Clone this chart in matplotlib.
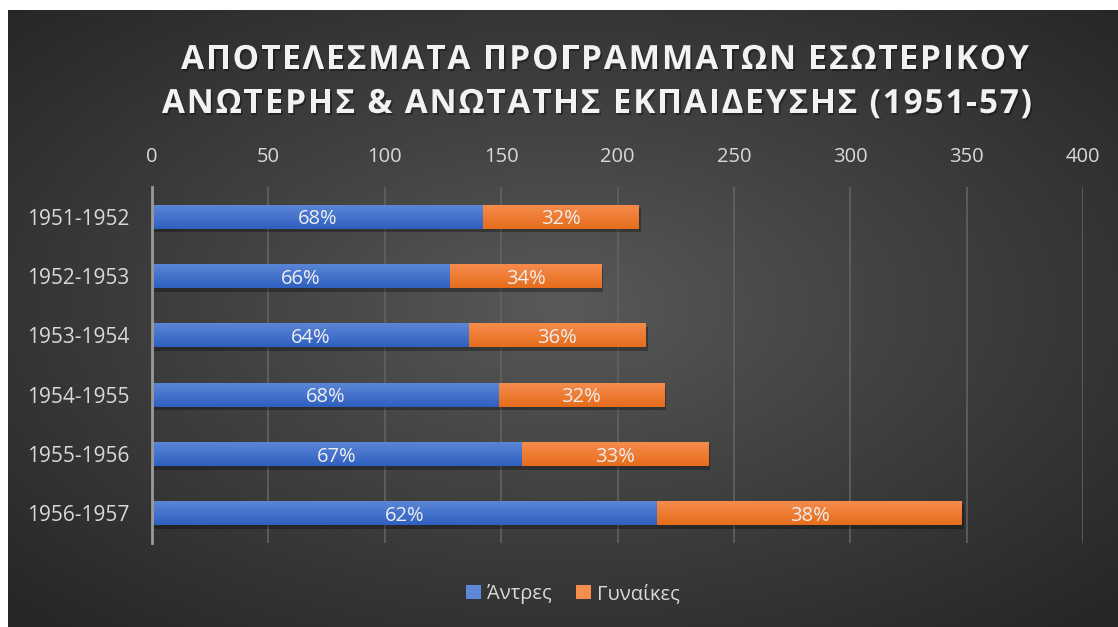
import numpy as np
import matplotlib
matplotlib.use("Agg")
import matplotlib.pyplot as plt
from matplotlib.patches import Patch
import matplotlib.patheffects as pe

# ---------------- data ----------------
years = ["1951-1952", "1952-1953", "1953-1954", "1954-1955", "1955-1956", "1956-1957"]
men = [142, 128, 136, 149, 159, 217]      # Άντρες
women = [67, 65, 76, 71, 80, 131]         # Γυναίκες
series_names = ["Άντρες", "Γυναίκες"]
x_ticks = [0, 50, 100, 150, 200, 250, 300, 350, 400]
title_lines = ["ΑΠΟΤΕΛΕΣΜΑΤΑ ΠΡΟΓΡΑΜΜΑΤΩΝ ΕΣΩΤΕΡΙΚΟΥ",
               "ΑΝΩΤΕΡΗΣ & ΑΝΩΤΑΤΗΣ ΕΚΠΑΙΔΕΥΣΗΣ (1951-57)"]

FONT = "Open Sans"
TXT = "#d9d9d9"
BLUE_TOP, BLUE_BOT = "#5d88d8", "#2f5fbf"
ORNG_TOP, ORNG_BOT = "#f68d4e", "#e66d1c"

W, H = 1118, 627
fig = plt.figure(figsize=(W / 100, H / 100), dpi=100)
fig.patch.set_facecolor("white")

# ---------------- background (radial gradient) ----------------
bg = fig.add_axes([8 / W, 0, 1 - 8 / W, 1 - 10 / H], zorder=-5)
bg.set_axis_off()
gy, gx = np.mgrid[0:1:300j, 0:1:500j]
r = np.sqrt(((gx - 0.5) / 0.5) ** 2 + ((gy - 0.48) / 0.5) ** 2) / np.sqrt(2)
r = np.clip(r, 0, 1) ** 0.9
light = np.array([0x5a, 0x5a, 0x5a]) / 255
dark = np.array([0x26, 0x26, 0x26]) / 255
img = light[None, None, :] * (1 - r[..., None]) + dark[None, None, :] * r[..., None]
bg.imshow(img, aspect="auto", extent=[0, 1, 1, 0])
bg.set_xlim(0, 1)
bg.set_ylim(1, 0)

# ---------------- main axes ----------------
ax = fig.add_axes([152 / W, 1 - 543 / H, (1083 - 152) / W, (543 - 187) / H])
ax.set_facecolor("none")
ypos = np.arange(len(years))
bar_h = 0.41

shadow = [pe.SimplePatchShadow(offset=(1.5, -2.5), shadow_rgbFace="black", alpha=0.3), pe.Normal()]
b1 = ax.barh(ypos, men, height=bar_h, color=BLUE_BOT, zorder=3, path_effects=shadow)
b2 = ax.barh(ypos, women, left=men, height=bar_h, color=ORNG_BOT, zorder=3, path_effects=shadow)

def grad(top, bot):
    t = np.array(matplotlib.colors.to_rgb(top))
    b = np.array(matplotlib.colors.to_rgb(bot))
    f = np.linspace(0, 1, 64)[:, None]
    return (t * (1 - f) + b * f)[:, None, :]

for cont, (ct, cb) in ((b1, (BLUE_TOP, BLUE_BOT)), (b2, (ORNG_TOP, ORNG_BOT))):
    g = grad(ct, cb)
    for p in cont.patches:
        x0, y0 = p.get_x(), p.get_y()
        w, h = p.get_width(), p.get_height()
        im = ax.imshow(g, aspect="auto", extent=[x0, x0 + w, y0 + h, y0], zorder=4,
                       interpolation="bilinear")
        im.set_clip_path(p)

for i in range(len(years)):
    tot = men[i] + women[i]
    pm = round(100 * men[i] / tot)
    pw = 100 - pm
    ax.text(men[i] / 2, ypos[i], f"{pm}%", ha="center", va="center_baseline", color="#eeeeee",
            fontsize=14.5, family=FONT, zorder=6)
    ax.text(men[i] + women[i] / 2, ypos[i], f"{pw}%", ha="center", va="center_baseline",
            color="#eeeeee", fontsize=14.5, family=FONT, zorder=6)

ax.set_xlim(0, 400)
ax.set_ylim(len(years) - 0.5, -0.5)
ax.set_xticks(x_ticks)
ax.set_xticklabels([str(t) for t in x_ticks])
ax.set_yticks(ypos)
ax.set_yticklabels(years)
ax.xaxis.tick_top()
ax.tick_params(axis="x", length=0, pad=14.5, labelsize=14.5, labelcolor=TXT)
ax.tick_params(axis="y", length=0, pad=16, labelsize=15, labelcolor=TXT)
for lab in ax.get_xticklabels() + ax.get_yticklabels():
    lab.set_family(FONT)
ax.grid(axis="x", color="#626262", linewidth=1.2, zorder=0)
ax.set_axisbelow(True)
for s in ["top", "right", "bottom"]:
    ax.spines[s].set_visible(False)
ax.spines["left"].set_color("#9a9a9a")
ax.spines["left"].set_linewidth(2)
ax.spines["left"].set_zorder(5)

# ---------------- title with letter spacing ----------------
renderer = fig.canvas.get_renderer()
title_fx = [pe.SimplePatchShadow(offset=(1.2, -1.5), shadow_rgbFace="black", alpha=0.35), pe.Normal()]

def spaced_text(s, cx, base_y, size, spacing_px):
    widths = []
    for ch in s:
        t = fig.text(0, 0, ch, fontsize=size, family=FONT, weight="bold")
        widths.append(t.get_window_extent(renderer).width)
        t.remove()
    total = sum(widths) + spacing_px * (len(s) - 1)
    x = cx - total / 2
    for ch, w in zip(s, widths):
        fig.text(x / W, 1 - base_y / H, ch, fontsize=size, family=FONT, weight="bold",
                 color="#f2f2f2", ha="left", va="baseline", path_effects=title_fx)
        x += w + spacing_px

spaced_text(title_lines[0], 605, 69, 24, 1.8)
spaced_text(title_lines[1], 597, 113, 24, 1.8)

# ---------------- legend ----------------
handles = [Patch(facecolor=BLUE_TOP, edgecolor="none"), Patch(facecolor=ORNG_TOP, edgecolor="none")]
leg = fig.legend(handles, series_names, loc="center", bbox_to_anchor=(573 / W, 1 - 594 / H),
                 ncol=2, frameon=False, handlelength=0.75, handleheight=0.75,
                 handletextpad=0.3, columnspacing=1.2, labelcolor=TXT,
                 prop={"family": FONT, "size": 14.5})

fig.savefig("out.png", dpi=100, facecolor=fig.get_facecolor())
